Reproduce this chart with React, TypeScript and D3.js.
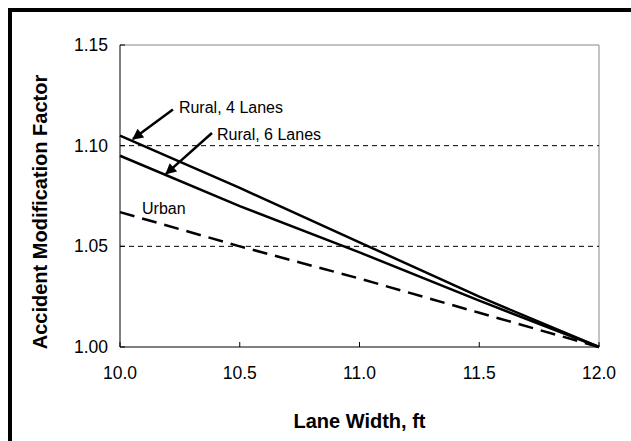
import * as d3 from "d3";

// Lane width (ft) vs accident modification factor
const laneWidths = [10.0, 10.5, 11.0, 11.5, 12.0];
const rural4 = [1.105, 1.079, 1.052, 1.025, 1.0];
const rural6 = [1.095, 1.07, 1.047, 1.023, 1.0];
const urban = [1.067, 1.05, 1.034, 1.017, 1.0];

const xTicks = [10.0, 10.5, 11.0, 11.5, 12.0];
const yTicks = [1.0, 1.05, 1.1, 1.15];
const gridValues = [1.05, 1.1];

// annotation labels, in data units
const notes = [
  { text: "Rural, 4 Lanes", at: [10.246, 1.116], arrow: [10.221, 1.118, 10.054, 1.1033] },
  { text: "Rural, 6 Lanes", at: [10.405, 1.1028], arrow: [10.384, 1.1063, 10.192, 1.086] },
  { text: "Urban", at: [10.092, 1.0661], arrow: null as null | number[] },
];

const W = 631;
const H = 441;
const margin = { top: 45, right: 32, bottom: 94, left: 120 };
const font = "'Liberation Sans', Arial, sans-serif";

export default function App() {
  const x = d3.scaleLinear().domain([10, 12]).range([margin.left, W - margin.right]);
  const y = d3.scaleLinear().domain([1.0, 1.15]).range([H - margin.bottom, margin.top]);
  const line = d3
    .line<number>()
    .x((_, i) => x(laneWidths[i]))
    .y((d) => y(d));

  const [x0, x1] = x.range();
  const [y0, y1] = y.range();

  return (
    <svg
      width={W}
      height={H}
      style={{ position: "absolute", left: 0, top: 0, background: "#fff" }}
      fontFamily={font}
    >
      <defs>
        <marker id="head" viewBox="0 0 10 10" refX="9" refY="5" markerWidth="5" markerHeight="4.4" orient="auto" markerUnits="strokeWidth">
          <path d="M0,0 L10,5 L0,10 z" fill="#000" />
        </marker>
      </defs>
      <rect x={10} y={10} width={W + 20} height={H + 20} fill="none" stroke="#000" strokeWidth={4} />

      {/* plot border */}
      <line x1={x0} x2={x1} y1={y1} y2={y1} stroke="#888" strokeWidth={1} />
      <line x1={x1} x2={x1} y1={y1} y2={y0} stroke="#888" strokeWidth={1} />

      {gridValues.map((v) => (
        <line key={v} x1={x0} x2={x1} y1={y(v)} y2={y(v)} stroke="#000" strokeWidth={1} strokeDasharray="5,4" />
      ))}

      {/* axes */}
      <line x1={x0} x2={x0} y1={y1} y2={y0} stroke="#000" strokeWidth={1} />
      <line x1={x0} x2={x1} y1={y0} y2={y0} stroke="#000" strokeWidth={1} />
      {xTicks.map((t) => (
        <g key={t}>
          <line x1={x(t)} x2={x(t)} y1={y0} y2={y0 - 5} stroke="#000" />
          <text x={x(t)} y={y0 + 32} textAnchor="middle" fontSize={17.5}>
            {t.toFixed(1)}
          </text>
        </g>
      ))}
      {yTicks.map((t) => (
        <g key={t}>
          <line x1={x0} x2={x0 + 5} y1={y(t)} y2={y(t)} stroke="#000" />
          <text x={x0 - 12} y={y(t) + 6} textAnchor="end" fontSize={17.5}>
            {t.toFixed(2)}
          </text>
        </g>
      ))}

      {/* series */}
      <path d={line(rural4)!} fill="none" stroke="#000" strokeWidth={2.5} />
      <path d={line(rural6)!} fill="none" stroke="#000" strokeWidth={2.5} />
      <path d={line(urban)!} fill="none" stroke="#000" strokeWidth={2.5} strokeDasharray="15,8" />

      {notes.map((n) => (
        <g key={n.text}>
          {n.arrow && (
            <line
              x1={x(n.arrow[0])}
              y1={y(n.arrow[1])}
              x2={x(n.arrow[2])}
              y2={y(n.arrow[3])}
              stroke="#000"
              strokeWidth={2.5}
              markerEnd="url(#head)"
            />
          )}
          <text x={x(n.at[0])} y={y(n.at[1])} fontSize={16}>
            {n.text}
          </text>
        </g>
      ))}

      <text x={(x0 + x1) / 2} y={428} textAnchor="middle" fontSize={20} fontWeight="bold">
        Lane Width, ft
      </text>
      <text
        transform={`translate(47,212) rotate(-90)`}
        textAnchor="middle"
        fontSize={20}
        fontWeight="bold"
      >
        Accident Modification Factor
      </text>
    </svg>
  );
}
